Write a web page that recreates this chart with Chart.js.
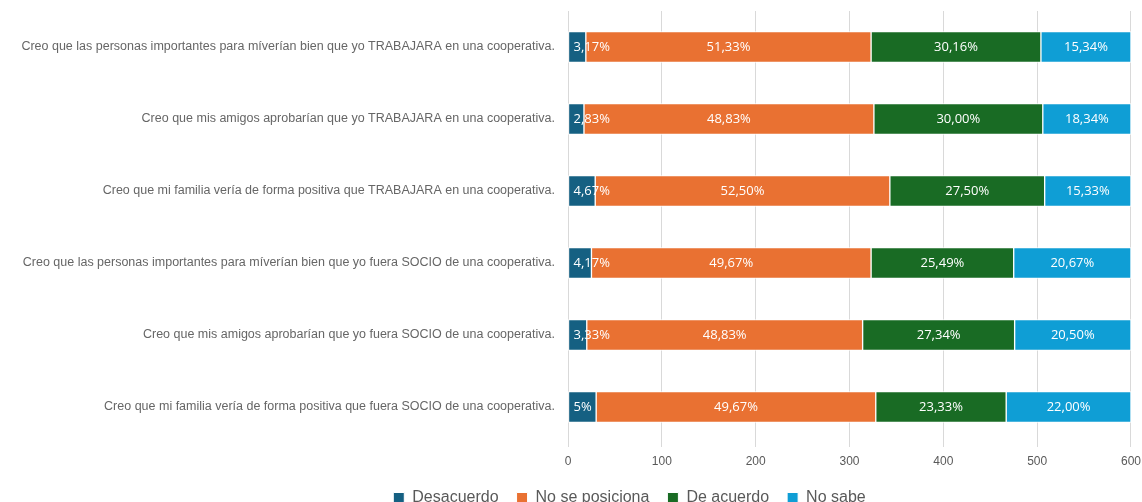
<!DOCTYPE html>
<html>
<head>
<meta charset="utf-8">
<title>Norma subjetiva - cooperativas</title>
<script src="https://cdn.jsdelivr.net/npm/chart.js@4.4.1/dist/chart.umd.min.js"></script>
<style>
  html, body { margin: 0; padding: 0; background: #fff; overflow: hidden; }
  #wrap { position: relative; width: 1142px; height: 516px; }
</style>
</head>
<body>
<div id="wrap"><canvas id="chart"></canvas></div>
<script>
// categorias (de arriba hacia abajo)
const categories = [
  'Creo que las personas importantes para míverían bien que yo TRABAJARA en una cooperativa.',
  'Creo que mis amigos aprobarían que yo TRABAJARA en una cooperativa.',
  'Creo que mi familia vería de forma positiva que TRABAJARA en una cooperativa.',
  'Creo que las personas importantes para míverían bien que yo fuera SOCIO de una cooperativa.',
  'Creo que mis amigos aprobarían que yo fuera SOCIO de una cooperativa.',
  'Creo que mi familia vería de forma positiva que fuera SOCIO de una cooperativa.'
];

const desacuerdo    = [19, 17, 29, 25, 20, 30];
const noSePosiciona = [304, 309, 314, 298, 294, 298];
const deAcuerdo     = [181, 180, 165, 152, 162, 139];
const noSabe        = [96, 94, 92, 125, 124, 133];

// etiquetas de porcentaje dentro de las barras
const desacuerdoLabels    = ['3,17%', '2,83%', '4,67%', '4,17%', '3,33%', '5%'];
const noSePosicionaLabels = ['51,33%', '48,83%', '52,50%', '49,67%', '48,83%', '49,67%'];
const deAcuerdoLabels     = ['30,16%', '30,00%', '27,50%', '25,49%', '27,34%', '23,33%'];
const noSabeLabels        = ['15,34%', '18,34%', '15,33%', '20,67%', '20,50%', '22,00%'];

const xTicks = [0, 100, 200, 300, 400, 500, 600];

Chart.defaults.font.family = '"Liberation Sans", Arial, sans-serif';

// dibuja los porcentajes en blanco sobre cada segmento
const barLabels = {
  id: 'barLabels',
  afterDatasetsDraw(chart) {
    const ctx = chart.ctx;
    ctx.save();
    ctx.font = '13px "Open Sans"';
    ctx.fillStyle = '#ffffff';
    ctx.textAlign = 'center';
    ctx.textBaseline = 'middle';
    chart.data.datasets.forEach((ds, i) => {
      chart.getDatasetMeta(i).data.forEach((bar, j) => {
        const text = ds.pctLabels[j];
        const w = ctx.measureText(text).width;
        const left = Math.min(bar.x, bar.base);
        let x = (bar.x + bar.base) / 2;
        x = Math.max(x, left + 5 + w / 2);
        ctx.fillText(text, x, bar.y);
      });
    });
    ctx.restore();
  }
};

// la leyenda de Excel no queda centrada en el lienzo
const legendShift = {
  id: 'legendShift',
  afterLayout(chart) {
    chart.legend.left += 64;
    chart.legend.right += 64;
  }
};

function serie(label, data, labels, color) {
  return {
    label: label,
    data: data,
    pctLabels: labels,
    backgroundColor: color,
    borderColor: '#ffffff',
    borderWidth: 1,
    borderSkipped: false,
    barThickness: 31
  };
}

new Chart(document.getElementById('chart'), {
  type: 'bar',
  data: {
    labels: categories,
    datasets: [
      serie('Desacuerdo', desacuerdo, desacuerdoLabels, '#156082'),
      serie('No se posiciona', noSePosiciona, noSePosicionaLabels, '#E97132'),
      serie('De acuerdo', deAcuerdo, deAcuerdoLabels, '#196B24'),
      serie('No sabe', noSabe, noSabeLabels, '#0F9ED5')
    ]
  },
  options: {
    indexAxis: 'y',
    responsive: true,
    maintainAspectRatio: false,
    animation: false,
    layout: { padding: { top: 11, right: 11, left: 0, bottom: 0 } },
    scales: {
      x: {
        stacked: true,
        min: xTicks[0],
        max: xTicks[xTicks.length - 1],
        ticks: {
          stepSize: xTicks[1] - xTicks[0],
          color: '#595959',
          font: { size: 12, lineHeight: 2.2 },
          padding: 1
        },
        grid: { color: '#d9d9d9', lineWidth: 1, tickLength: 4 },
        border: { display: false },
        afterFit(scale) { scale.height = 29; }
      },
      y: {
        stacked: true,
        ticks: { color: '#666666', font: { size: 12.5 }, padding: 3 },
        grid: {
          display: true,
          drawOnChartArea: false,
          drawTicks: true,
          tickLength: 10,
          tickColor: 'rgba(0,0,0,0)'
        },
        border: { display: false },
        afterFit(scale) { scale.width = 568; }
      }
    },
    plugins: {
      legend: {
        position: 'bottom',
        labels: {
          boxWidth: 11,
          boxHeight: 11,
          padding: 18,
          color: '#595959',
          font: { size: 16 }
        }
      },
      tooltip: { enabled: false }
    }
  },
  plugins: [barLabels, legendShift]
});
</script>
</body>
</html>
